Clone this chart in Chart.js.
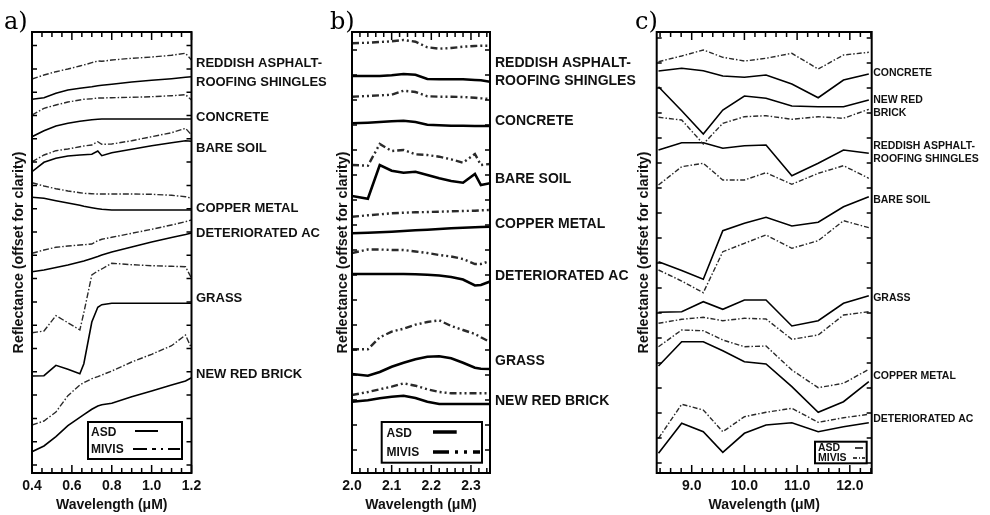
<!DOCTYPE html>
<html><head><meta charset="utf-8">
<script src="https://cdn.jsdelivr.net/npm/chart.js@4/dist/chart.umd.min.js"></script>
<style>
html,body{margin:0;padding:0;background:#fff;}
body{width:990px;height:515px;overflow:hidden;position:relative;}
.wrap{position:absolute;top:0;height:515px;}
</style></head>
<body>
<div class="wrap" style="left:0px;width:330px"><canvas id="ca"></canvas></div>
<div class="wrap" style="left:325px;width:315px"><canvas id="cb"></canvas></div>
<div class="wrap" style="left:634px;width:356px"><canvas id="cc"></canvas></div>
<script>
// ---------- DATA ----------
const seriesNames = ['ASD', 'MIVIS'];

// panel a) VNIR
const waveA = [0.40, 0.46, 0.52, 0.58, 0.64, 0.66, 0.70, 0.73, 0.75, 0.80, 0.90, 1.00, 1.10, 1.17, 1.20];
const asdA_reddish  = [37.37, 37.53, 37.97, 38.3, 38.47, 38.53, 38.63, 38.73, 38.77, 38.87, 39.1, 39.27, 39.43, 39.57, 39.63];
const mivA_reddish  = [39.4, 39.8, 40.13, 40.4, 40.7, 40.8, 41.03, 41.2, 41.17, 41.3, 41.47, 41.6, 41.77, 41.97, 41.3];
const asdA_concrete = [33.63, 34.23, 34.7, 34.97, 35.17, 35.23, 35.33, 35.37, 35.4, 35.4, 35.4, 35.4, 35.4, 35.4, 35.4];
const mivA_concrete = [35.8, 36.47, 36.8, 37.1, 37.3, 37.37, 37.43, 37.5, 37.5, 37.53, 37.57, 37.63, 37.73, 37.83, 37.3];
const asdA_soil     = [30.13, 31.07, 31.47, 31.7, 31.8, 31.83, 31.87, 32.2, 31.73, 32.03, 32.37, 32.73, 33.03, 33.23, 33.17];
const mivA_soil     = [31.13, 31.8, 32.23, 32.4, 32.63, 32.7, 32.8, 33.13, 32.87, 32.9, 33.23, 33.63, 34.03, 34.47, 33.8];
const asdA_copper   = [27.57, 27.47, 27.23, 27.0, 26.77, 26.67, 26.53, 26.43, 26.37, 26.3, 26.3, 26.3, 26.3, 26.3, 26.3];
const mivA_copper   = [29.03, 28.7, 28.43, 28.2, 28.03, 27.97, 27.93, 27.9, 27.9, 27.9, 27.9, 27.87, 27.77, 27.63, 27.47];
const asdA_ac       = [20.13, 20.3, 20.55, 20.8, 21.1, 21.2, 21.45, 21.65, 21.8, 22.1, 22.6, 23.1, 23.55, 23.85, 24.0];
const mivA_ac       = [21.97, 22.3, 22.57, 22.7, 22.8, 22.83, 22.9, 23.23, 23.37, 23.57, 23.97, 24.37, 24.8, 25.13, 25.3];
const asdA_grass    = [9.7, 9.73, 10.77, 10.37, 9.93, 10.93, 15.1, 16.57, 16.83, 16.97, 16.97, 16.97, 16.97, 16.97, 16.97];
const mivA_grass    = [14.03, 14.2, 15.73, 15.03, 14.3, 16.03, 19.8, 20.2, 20.4, 20.97, 20.83, 20.73, 20.67, 20.63, 19.47];
const asdA_brick    = [2.13, 2.7, 3.63, 4.73, 5.57, 5.83, 6.37, 6.7, 6.83, 6.97, 7.63, 8.2, 8.8, 9.2, 9.53];
const mivA_brick    = [4.8, 5.2, 6.1, 7.73, 8.8, 9.03, 9.43, 9.63, 9.8, 10.2, 11.1, 11.87, 12.73, 13.8, 12.47];
const labelsA = ['REDDISH ASPHALT-', 'ROOFING SHINGLES', 'CONCRETE', 'BARE SOIL', 'COPPER METAL', 'DETERIORATED AC', 'GRASS', 'NEW RED BRICK'];
const labelYA = [41.0, 39.1, 35.6, 32.5, 26.5, 24.0, 17.5, 9.9];

// panel b) SWIR
const waveB = [2.00, 2.04, 2.07, 2.10, 2.13, 2.16, 2.19, 2.22, 2.25, 2.28, 2.31, 2.325, 2.348];
const asdB_reddish  = [39.7, 39.7, 39.7, 39.77, 39.9, 39.83, 39.4, 39.37, 39.37, 39.37, 39.3, 39.27, 39.13];
const mivB_reddish  = [42.97, 43.03, 43.1, 43.17, 43.3, 43.13, 42.57, 42.43, 42.5, 42.63, 42.7, 42.73, 42.73];
const asdB_concrete = [34.97, 35.03, 35.1, 35.17, 35.23, 35.1, 34.83, 34.77, 34.73, 34.73, 34.7, 34.7, 34.7];
const mivB_concrete = [37.63, 37.7, 37.77, 37.83, 38.23, 38.1, 37.67, 37.63, 37.63, 37.6, 37.53, 37.47, 37.4];
const asdB_soil     = [27.7, 27.43, 30.8, 30.23, 30.03, 30.13, 29.8, 29.47, 29.2, 29.03, 29.9, 28.8, 28.97];
const mivB_soil     = [30.8, 30.73, 32.9, 32.2, 32.3, 31.87, 31.8, 31.63, 31.37, 31.03, 31.9, 30.8, 30.9];
const asdB_copper   = [23.97, 24.03, 24.07, 24.13, 24.2, 24.27, 24.33, 24.4, 24.47, 24.53, 24.57, 24.6, 24.63];
const mivB_copper   = [25.63, 25.77, 25.87, 25.97, 26.03, 26.07, 26.1, 26.13, 26.17, 26.2, 26.23, 26.27, 26.3];
const asdB_ac       = [19.9, 19.9, 19.9, 19.9, 19.9, 19.87, 19.83, 19.75, 19.6, 19.35, 18.75, 18.8, 19.15];
const mivB_ac       = [22.0, 22.35, 22.35, 22.3, 22.3, 22.15, 22.0, 21.8, 21.65, 21.4, 20.9, 20.9, 21.2];
const asdB_grass    = [9.9, 9.73, 10.1, 10.63, 11.03, 11.37, 11.63, 11.67, 11.47, 11.03, 10.53, 10.43, 10.4];
const mivB_grass    = [12.37, 12.37, 13.57, 14.13, 14.43, 14.83, 15.1, 15.27, 14.7, 14.3, 13.9, 13.57, 13.1];
const asdB_brick    = [7.13, 7.27, 7.47, 7.63, 7.73, 7.5, 7.13, 6.9, 6.9, 6.9, 6.9, 6.9, 6.9];
const mivB_brick    = [7.8, 8.1, 8.37, 8.63, 8.97, 8.73, 8.37, 8.1, 7.97, 7.97, 7.97, 7.97, 7.97];
const labelsB = ['REDDISH ASPHALT-', 'ROOFING SHINGLES', 'CONCRETE', 'BARE SOIL', 'COPPER METAL', 'DETERIORATED AC', 'GRASS', 'NEW RED BRICK'];
const labelYB = [40.97, 39.2, 35.23, 29.4, 24.9, 19.7, 11.2, 7.2];

// panel c) TIR
const waveC = [8.37, 8.81, 9.22, 9.59, 10.0, 10.41, 10.90, 11.40, 11.88, 12.36];
const asdC_concrete = [40.2, 40.47, 40.23, 39.7, 39.57, 39.8, 38.9, 37.53, 39.3, 39.9];
const mivC_concrete = [41.13, 41.7, 42.3, 41.57, 41.2, 41.47, 41.97, 40.4, 41.8, 42.07];
const asdC_brick    = [38.63, 36.23, 33.9, 36.3, 37.7, 37.47, 36.7, 36.63, 36.63, 37.3];
const mivC_brick    = [35.57, 35.3, 32.9, 34.97, 35.63, 35.73, 35.37, 35.63, 35.47, 36.37];
const asdC_reddish  = [32.3, 33.03, 33.03, 32.47, 32.73, 32.8, 29.73, 30.97, 32.3, 31.97];
const mivC_reddish  = [28.8, 30.63, 30.97, 29.3, 29.3, 30.03, 28.87, 29.97, 30.73, 29.47];
const asdC_soil     = [21.13, 20.25, 19.37, 24.23, 24.97, 25.57, 24.7, 25.07, 26.63, 27.63];
const mivC_soil     = [20.3, 19.2, 18.03, 22.13, 22.97, 23.8, 22.47, 23.23, 25.23, 24.53];
const asdC_grass    = [16.07, 16.13, 17.13, 16.37, 17.3, 17.3, 14.7, 15.23, 16.97, 17.73];
const mivC_grass    = [14.97, 15.37, 15.57, 15.23, 15.47, 15.4, 13.37, 13.8, 15.8, 16.13];
const asdC_copper   = [10.7, 13.13, 13.13, 12.23, 11.13, 10.9, 8.63, 6.07, 7.13, 9.13];
const mivC_copper   = [12.63, 14.3, 14.23, 13.3, 12.63, 12.7, 10.3, 8.53, 8.97, 10.37];
const asdC_ac       = [1.97, 4.97, 4.13, 2.07, 3.97, 4.8, 5.03, 4.13, 4.63, 5.03];
const mivC_ac       = [3.47, 6.87, 6.3, 4.13, 5.63, 6.07, 6.47, 5.07, 5.53, 5.87];
const labelsC = ['CONCRETE', 'NEW RED', 'BRICK', 'REDDISH ASPHALT-', 'ROOFING SHINGLES', 'BARE SOIL', 'GRASS', 'COPPER METAL', 'DETERIORATED AC'];
const labelYC = [40.03, 37.3, 35.97, 32.7, 31.37, 27.3, 17.47, 9.7, 5.37];

// ---------- RENDERING ----------
const FONT = '"Liberation Sans", Arial, Helvetica, sans-serif';
const isMajor = (v, m) => Math.abs(v / m - Math.round(v / m)) < 1e-6;

function pairs(wave, asd, miv, st) {
  return [
    {label: seriesNames[0], data: wave.map((x, i) => ({x, y: asd[i]})), borderColor: '#000',
     borderWidth: st.asdW, borderDash: [], pointRadius: 0, tension: 0, fill: false},
    {label: seriesNames[1], data: wave.map((x, i) => ({x, y: miv[i]})), borderColor: '#2a2a2a',
     borderWidth: st.mivW, borderDash: st.dash, pointRadius: 0, tension: 0, fill: false}
  ];
}

const decor = {
  id: 'decor',
  afterDraw(chart, args, o) {
    const ctx = chart.ctx, ca = chart.chartArea, xs = chart.scales.x, ys = chart.scales.y;
    ctx.save();
    ctx.strokeStyle = '#000';
    ctx.lineWidth = 1.5;
    ctx.setLineDash([]);
    xs.ticks.forEach(t => {
      const px = xs.getPixelForValue(t.value);
      const L = isMajor(t.value, o.major) ? o.majorLen : o.minorLen;
      ctx.beginPath();
      ctx.moveTo(px, ca.bottom); ctx.lineTo(px, ca.bottom - L);
      ctx.moveTo(px, ca.top); ctx.lineTo(px, ca.top + L);
      ctx.stroke();
    });
    ys.ticks.forEach(t => {
      const py = ys.getPixelForValue(t.value);
      ctx.beginPath();
      ctx.moveTo(ca.left, py); ctx.lineTo(ca.left + o.yLen, py);
      ctx.moveTo(ca.right, py); ctx.lineTo(ca.right - o.yLen, py);
      ctx.stroke();
    });
    ctx.lineWidth = 2;
    ctx.strokeRect(ca.left, ca.top, ca.right - ca.left, ca.bottom - ca.top);
    // curve names
    ctx.fillStyle = '#111';
    ctx.font = o.labelFont;
    ctx.textBaseline = 'middle';
    ctx.textAlign = 'left';
    o.labels.forEach((s, i) => ctx.fillText(s, ca.right + o.labelGap, ys.getPixelForValue(o.labelY[i])));
    // legend box
    const L = o.legend;
    ctx.fillStyle = '#fff';
    ctx.fillRect(L.x, L.y, L.w, L.h);
    ctx.lineWidth = 2;
    ctx.strokeRect(L.x, L.y, L.w, L.h);
    ctx.fillStyle = '#111';
    ctx.font = L.font;
    ctx.fillText(seriesNames[0], L.tx, L.ty1);
    ctx.fillText(seriesNames[1], L.tx, L.ty2);
    ctx.lineWidth = L.lw;
    ctx.beginPath(); ctx.moveTo(L.a[0], L.a[2]); ctx.lineTo(L.a[1], L.a[2]); ctx.stroke();
    ctx.setLineDash(L.dash);
    ctx.beginPath(); ctx.moveTo(L.m[0], L.m[2]); ctx.lineTo(L.m[1], L.m[2]); ctx.stroke();
    ctx.setLineDash([]);
    // panel letter
    ctx.font = '24px "DejaVu Serif", serif';
    ctx.textBaseline = 'alphabetic';
    ctx.fillStyle = '#000';
    ctx.fillText(o.letter, o.letterX, o.letterY);
    ctx.restore();
  }
};

function makeChart(id, c) {
  const yT = [];
  for (let v = c.yTick0; v < 44.1; v += c.yTickStep) yT.push(v);
  return new Chart(document.getElementById(id), {
    type: 'line',
    data: {datasets: c.datasets},
    options: {
      responsive: true, maintainAspectRatio: false, animation: false,
      layout: {padding: {left: c.padL, right: c.padR, top: 32, bottom: 0}},
      plugins: {legend: {display: false}, tooltip: {enabled: false}, decor: c.decor},
      scales: {
        x: {type: 'linear', min: c.xmin, max: c.xmax,
            grid: {display: false, drawTicks: false}, border: {display: false},
            ticks: {stepSize: c.step, autoSkip: false, maxRotation: 0, minRotation: 0, includeBounds: false,
                    padding: 4.5, color: '#111', font: {family: FONT, weight: 'bold', size: 14},
                    callback: v => isMajor(v, c.decor.major) ? Number(v).toFixed(1) : ''},
            title: {display: true, text: 'Wavelength (μM)', color: '#111',
                    font: {family: FONT, weight: 'bold', size: 14}, padding: {top: 0, bottom: 1}},
            afterFit: s => { s.height = 42; }},
        y: {type: 'linear', min: 0, max: 44.1,
            grid: {display: false, drawTicks: false}, border: {display: false},
            ticks: {display: false},
            title: {display: true, text: 'Reflectance (offset for clarity)', color: '#111',
                    font: {family: FONT, weight: 'bold', size: 14.3}, padding: {top: c.ytPad, bottom: 0}},
            afterBuildTicks: s => { s.ticks = yT.map(v => ({value: v})); },
            afterFit: s => { s.width = c.yW; }}
      }
    },
    plugins: [decor]
  });
}

const stA = {asdW: 1.6, mivW: 1.4, dash: [6, 2, 1.5, 2]};
const stB = {asdW: 2.6, mivW: 2.4, dash: [7, 3, 2, 3, 2, 3]};
const stC = {asdW: 1.6, mivW: 1.4, dash: [5, 2, 1.5, 2]};

makeChart('ca', {
  datasets: [].concat(
    pairs(waveA, asdA_reddish, mivA_reddish, stA), pairs(waveA, asdA_concrete, mivA_concrete, stA),
    pairs(waveA, asdA_soil, mivA_soil, stA), pairs(waveA, asdA_copper, mivA_copper, stA),
    pairs(waveA, asdA_ac, mivA_ac, stA), pairs(waveA, asdA_grass, mivA_grass, stA),
    pairs(waveA, asdA_brick, mivA_brick, stA)),
  xmin: 0.4, xmax: 1.2, step: 0.05, padL: 0, padR: 138.5, yW: 32, ytPad: 10.5,
  yTick0: 0.8, yTickStep: 2.33,
  decor: {major: 0.2, majorLen: 8, minorLen: 5, yLen: 5, labels: labelsA, labelY: labelYA,
    labelFont: 'bold 13px ' + FONT, labelGap: 4.5, letter: 'a)', letterX: 4, letterY: 29,
    legend: {x: 88, y: 422, w: 94, h: 37, font: 'bold 12px ' + FONT, tx: 91, ty1: 433, ty2: 449.5,
      lw: 2, a: [135, 158, 431], m: [133, 180, 449], dash: [14, 5, 4, 5, 2, 5]}}
});

makeChart('cb', {
  datasets: [].concat(
    pairs(waveB, asdB_reddish, mivB_reddish, stB), pairs(waveB, asdB_concrete, mivB_concrete, stB),
    pairs(waveB, asdB_soil, mivB_soil, stB), pairs(waveB, asdB_copper, mivB_copper, stB),
    pairs(waveB, asdB_ac, mivB_ac, stB), pairs(waveB, asdB_grass, mivB_grass, stB),
    pairs(waveB, asdB_brick, mivB_brick, stB)),
  xmin: 2.0, xmax: 2.348, step: 0.02, padL: 0, padR: 150, yW: 27, ytPad: 9.6,
  yTick0: 2.3, yTickStep: 2.5,
  decor: {major: 0.1, majorLen: 8, minorLen: 5, yLen: 5, labels: labelsB, labelY: labelYB,
    labelFont: 'bold 14px ' + FONT, labelGap: 5, letter: 'b)', letterX: 5, letterY: 29,
    legend: {x: 56.7, y: 422, w: 100.3, h: 40.7, font: 'bold 12px ' + FONT, tx: 61.5, ty1: 434, ty2: 452.5,
      lw: 3.5, a: [108, 131.7, 432], m: [108, 155, 452], dash: [16, 6, 3, 6, 3, 6]}}
});

makeChart('cc', {
  datasets: [].concat(
    pairs(waveC, asdC_concrete, mivC_concrete, stC), pairs(waveC, asdC_brick, mivC_brick, stC),
    pairs(waveC, asdC_reddish, mivC_reddish, stC), pairs(waveC, asdC_soil, mivC_soil, stC),
    pairs(waveC, asdC_grass, mivC_grass, stC), pairs(waveC, asdC_copper, mivC_copper, stC),
    pairs(waveC, asdC_ac, mivC_ac, stC)),
  xmin: 8.336, xmax: 12.415, step: 0.2, padL: 0, padR: 118.3, yW: 22.7, ytPad: 1.8,
  yTick0: 1.0, yTickStep: 2.5,
  decor: {major: 1.0, majorLen: 8, minorLen: 5, yLen: 5, labels: labelsC, labelY: labelYC,
    labelFont: 'bold 10.5px ' + FONT, labelGap: 1.5, letter: 'c)', letterX: 1, letterY: 29,
    legend: {x: 181, y: 441.7, w: 51.7, h: 21.6, font: 'bold 10.5px ' + FONT, tx: 184, ty1: 448.5, ty2: 458.5,
      lw: 1.5, a: [221, 229, 448], m: [219, 231, 458], dash: [4, 2, 1, 2]}}
});
</script>
</body></html>
